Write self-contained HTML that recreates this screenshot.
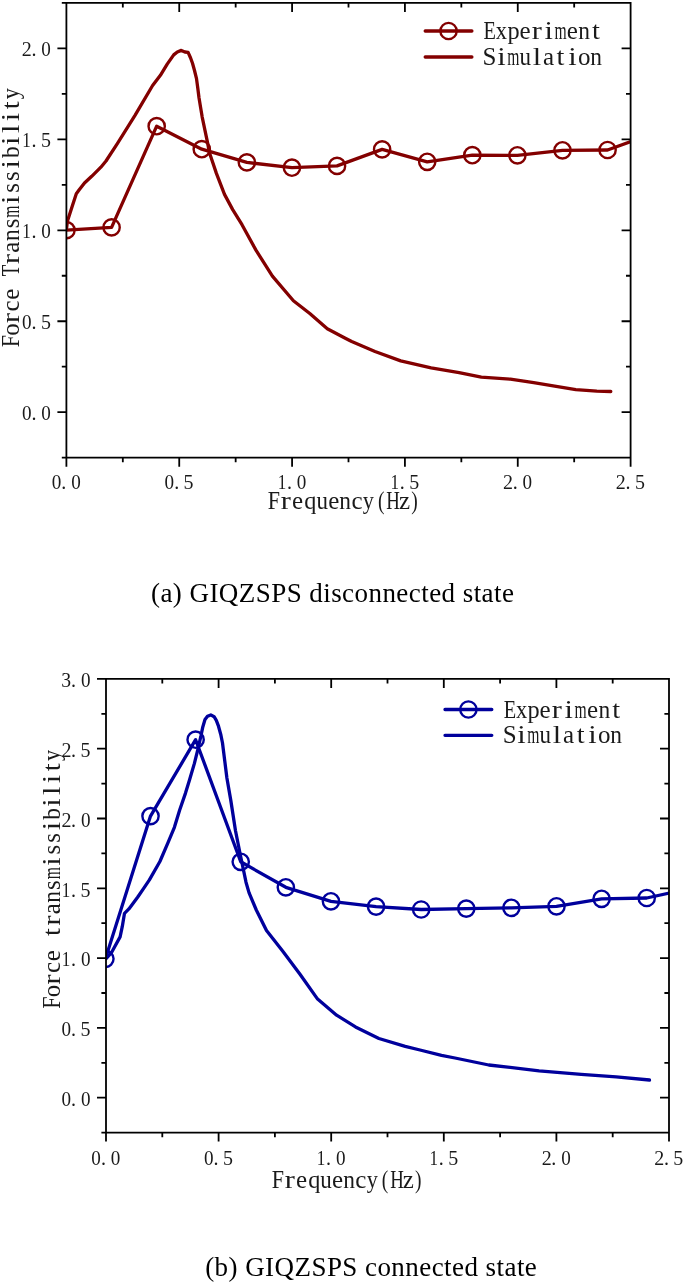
<!DOCTYPE html>
<html><head><meta charset="utf-8"><title>Force transmissibility</title>
<style>
html,body{margin:0;padding:0;background:#fff;}
svg{display:block;will-change:transform;}
svg text{font-family:"Liberation Serif", serif;}
</style></head>
<body>
<svg width="685" height="1285" viewBox="0 0 685 1285">
<rect width="685" height="1285" fill="#fff"/>
<clipPath id="ca"><rect x="66.4" y="2.925" width="564.2" height="454.75"/></clipPath>
<g clip-path="url(#ca)">
<polyline points="66.60,228.00 67.40,221.30 72.30,206.00 76.30,193.70 79.40,189.60 84.50,183.00 91.70,176.30 100.90,167.20 106.00,161.00 117.50,143.40 135.00,115.30 152.60,85.50 160.40,75.30 167.20,64.10 173.70,54.90 177.30,52.00 181.30,50.40 184.90,52.00 188.10,52.40 190.50,57.70 192.50,63.30 194.50,70.50 196.50,78.60 197.80,88.20 199.00,97.80 200.60,107.50 202.20,117.10 207.70,143.40 209.30,152.30 216.40,173.40 224.50,194.40 232.70,209.60 242.00,224.70 256.10,250.40 272.40,276.10 293.40,300.70 309.80,313.50 327.30,328.70 344.80,338.00 351.70,341.50 375.00,351.50 400.70,360.90 431.10,367.90 459.10,372.60 481.30,377.20 510.40,379.20 533.70,382.70 554.70,386.20 575.80,389.70 596.80,391.10 610.80,391.50" fill="none" stroke="#830000" stroke-width="3.3" stroke-linejoin="round" stroke-linecap="round"/>
<polyline points="66.50,230.10 111.59,227.40 156.68,126.20 201.77,149.20 246.86,162.40 291.95,167.70 337.04,165.90 382.13,149.40 427.22,161.80 472.31,155.20 517.40,155.30 562.49,150.30 607.58,150.00 640.00,138.30" fill="none" stroke="#830000" stroke-width="3.3" stroke-linejoin="round" stroke-linecap="round"/>
<circle cx="66.50" cy="230.10" r="8.15" fill="none" stroke="#830000" stroke-width="2.4"/>
<circle cx="111.59" cy="227.40" r="8.15" fill="none" stroke="#830000" stroke-width="2.4"/>
<circle cx="156.68" cy="126.20" r="8.15" fill="none" stroke="#830000" stroke-width="2.4"/>
<circle cx="201.77" cy="149.20" r="8.15" fill="none" stroke="#830000" stroke-width="2.4"/>
<circle cx="246.86" cy="162.40" r="8.15" fill="none" stroke="#830000" stroke-width="2.4"/>
<circle cx="291.95" cy="167.70" r="8.15" fill="none" stroke="#830000" stroke-width="2.4"/>
<circle cx="337.04" cy="165.90" r="8.15" fill="none" stroke="#830000" stroke-width="2.4"/>
<circle cx="382.13" cy="149.40" r="8.15" fill="none" stroke="#830000" stroke-width="2.4"/>
<circle cx="427.22" cy="161.80" r="8.15" fill="none" stroke="#830000" stroke-width="2.4"/>
<circle cx="472.31" cy="155.20" r="8.15" fill="none" stroke="#830000" stroke-width="2.4"/>
<circle cx="517.40" cy="155.30" r="8.15" fill="none" stroke="#830000" stroke-width="2.4"/>
<circle cx="562.49" cy="150.30" r="8.15" fill="none" stroke="#830000" stroke-width="2.4"/>
<circle cx="607.58" cy="150.00" r="8.15" fill="none" stroke="#830000" stroke-width="2.4"/>
</g>
<path d="M66.4,2.925H630.6V457.675H66.4Z M66.40,457.675v9.0 M66.40,2.925v9.0 M122.82,457.675v4.6 M122.82,2.925v4.6 M179.24,457.675v9.0 M179.24,2.925v9.0 M235.66,457.675v4.6 M235.66,2.925v4.6 M292.08,457.675v9.0 M292.08,2.925v9.0 M348.50,457.675v4.6 M348.50,2.925v4.6 M404.92,457.675v9.0 M404.92,2.925v9.0 M461.34,457.675v4.6 M461.34,2.925v4.6 M517.76,457.675v9.0 M517.76,2.925v9.0 M574.18,457.675v4.6 M574.18,2.925v4.6 M630.60,457.675v9.0 M630.60,2.925v9.0 M66.4,457.68h-4.6 M630.6,457.68h-4.6 M66.4,412.20h-9.0 M630.6,412.20h-9.0 M66.4,366.72h-4.6 M630.6,366.72h-4.6 M66.4,321.25h-9.0 M630.6,321.25h-9.0 M66.4,275.77h-4.6 M630.6,275.77h-4.6 M66.4,230.30h-9.0 M630.6,230.30h-9.0 M66.4,184.82h-4.6 M630.6,184.82h-4.6 M66.4,139.35h-9.0 M630.6,139.35h-9.0 M66.4,93.88h-4.6 M630.6,93.88h-4.6 M66.4,48.40h-9.0 M630.6,48.40h-9.0 M66.4,2.92h-4.6 M630.6,2.92h-4.6" fill="none" stroke="#000" stroke-width="1.8" stroke-linecap="butt" stroke-linejoin="miter"/>
<g fill="#1a1a1a">
<text transform="translate(56.50,488.90) scale(0.957,1)" x="-4.99" y="0" font-size="20.0">0</text>
<text transform="translate(63.80,488.90) scale(1.000,1)" x="-2.49" y="0" font-size="20.0">.</text>
<text transform="translate(75.90,488.90) scale(0.957,1)" x="-4.99" y="0" font-size="20.0">0</text>
<text transform="translate(169.34,488.90) scale(0.957,1)" x="-4.99" y="0" font-size="20.0">0</text>
<text transform="translate(176.64,488.90) scale(1.000,1)" x="-2.49" y="0" font-size="20.0">.</text>
<text transform="translate(188.74,488.90) scale(1.000,1)" x="-5.18" y="0" font-size="20.0">5</text>
<text transform="translate(282.18,488.90) scale(0.855,1)" x="-5.27" y="0" font-size="20.0">1</text>
<text transform="translate(289.48,488.90) scale(1.000,1)" x="-2.49" y="0" font-size="20.0">.</text>
<text transform="translate(301.58,488.90) scale(0.957,1)" x="-4.99" y="0" font-size="20.0">0</text>
<text transform="translate(395.02,488.90) scale(0.855,1)" x="-5.27" y="0" font-size="20.0">1</text>
<text transform="translate(402.32,488.90) scale(1.000,1)" x="-2.49" y="0" font-size="20.0">.</text>
<text transform="translate(414.42,488.90) scale(1.000,1)" x="-5.18" y="0" font-size="20.0">5</text>
<text transform="translate(507.86,488.90) scale(1.000,1)" x="-4.88" y="0" font-size="20.0">2</text>
<text transform="translate(515.16,488.90) scale(1.000,1)" x="-2.49" y="0" font-size="20.0">.</text>
<text transform="translate(527.26,488.90) scale(0.957,1)" x="-4.99" y="0" font-size="20.0">0</text>
<text transform="translate(620.70,488.90) scale(1.000,1)" x="-4.88" y="0" font-size="20.0">2</text>
<text transform="translate(628.00,488.90) scale(1.000,1)" x="-2.49" y="0" font-size="20.0">.</text>
<text transform="translate(640.10,488.90) scale(1.000,1)" x="-5.18" y="0" font-size="20.0">5</text>
<text transform="translate(26.70,420.00) scale(0.957,1)" x="-4.99" y="0" font-size="20.0">0</text>
<text transform="translate(34.00,420.00) scale(1.000,1)" x="-2.49" y="0" font-size="20.0">.</text>
<text transform="translate(46.10,420.00) scale(0.957,1)" x="-4.99" y="0" font-size="20.0">0</text>
<text transform="translate(26.70,329.05) scale(0.957,1)" x="-4.99" y="0" font-size="20.0">0</text>
<text transform="translate(34.00,329.05) scale(1.000,1)" x="-2.49" y="0" font-size="20.0">.</text>
<text transform="translate(46.10,329.05) scale(1.000,1)" x="-5.18" y="0" font-size="20.0">5</text>
<text transform="translate(26.70,238.10) scale(0.855,1)" x="-5.27" y="0" font-size="20.0">1</text>
<text transform="translate(34.00,238.10) scale(1.000,1)" x="-2.49" y="0" font-size="20.0">.</text>
<text transform="translate(46.10,238.10) scale(0.957,1)" x="-4.99" y="0" font-size="20.0">0</text>
<text transform="translate(26.70,147.15) scale(0.855,1)" x="-5.27" y="0" font-size="20.0">1</text>
<text transform="translate(34.00,147.15) scale(1.000,1)" x="-2.49" y="0" font-size="20.0">.</text>
<text transform="translate(46.10,147.15) scale(1.000,1)" x="-5.18" y="0" font-size="20.0">5</text>
<text transform="translate(26.70,56.20) scale(1.000,1)" x="-4.88" y="0" font-size="20.0">2</text>
<text transform="translate(34.00,56.20) scale(1.000,1)" x="-2.49" y="0" font-size="20.0">.</text>
<text transform="translate(46.10,56.20) scale(0.957,1)" x="-4.99" y="0" font-size="20.0">0</text>
<text transform="translate(273.80,508.60) scale(0.882,1)" x="-6.85" y="0" font-size="25">F</text>
<text transform="translate(286.00,508.60) scale(1.215,1)" x="-4.29" y="0" font-size="25">r</text>
<text transform="translate(297.70,508.60) scale(1.000,1)" x="-5.59" y="0" font-size="25">e</text>
<text transform="translate(310.50,508.60) scale(0.971,1)" x="-6.46" y="0" font-size="25">q</text>
<text transform="translate(322.10,508.60) scale(0.921,1)" x="-6.19" y="0" font-size="25">u</text>
<text transform="translate(333.80,508.60) scale(1.000,1)" x="-5.59" y="0" font-size="25">e</text>
<text transform="translate(345.30,508.60) scale(0.937,1)" x="-6.34" y="0" font-size="25">n</text>
<text transform="translate(357.00,508.60) scale(1.000,1)" x="-5.62" y="0" font-size="25">c</text>
<text transform="translate(368.40,508.60) scale(0.894,1)" x="-6.34" y="0" font-size="25">y</text>
<text transform="translate(381.30,508.60) scale(0.781,1)" x="-4.30" y="0" font-size="25">(</text>
<text transform="translate(393.10,508.60) scale(0.754,1)" x="-9.01" y="0" font-size="25">H</text>
<text transform="translate(404.40,508.60) scale(1.000,1)" x="-5.53" y="0" font-size="25">z</text>
<text transform="translate(414.30,508.60) scale(0.781,1)" x="-4.00" y="0" font-size="25">)</text>
<text transform="translate(19.30,341.30) rotate(-90) scale(0.882,1)" x="-6.85" y="0" font-size="25">F</text>
<text transform="translate(19.30,329.50) rotate(-90) scale(1.000,1)" x="-6.24" y="0" font-size="25">o</text>
<text transform="translate(19.30,317.70) rotate(-90) scale(1.215,1)" x="-4.29" y="0" font-size="25">r</text>
<text transform="translate(19.30,305.90) rotate(-90) scale(1.000,1)" x="-5.62" y="0" font-size="25">c</text>
<text transform="translate(19.30,294.10) rotate(-90) scale(1.000,1)" x="-5.59" y="0" font-size="25">e</text>
<text transform="translate(19.30,270.50) rotate(-90) scale(0.751,1)" x="-7.64" y="0" font-size="25">T</text>
<text transform="translate(19.30,258.70) rotate(-90) scale(1.215,1)" x="-4.29" y="0" font-size="25">r</text>
<text transform="translate(19.30,246.90) rotate(-90) scale(1.000,1)" x="-5.80" y="0" font-size="25">a</text>
<text transform="translate(19.30,235.10) rotate(-90) scale(0.937,1)" x="-6.34" y="0" font-size="25">n</text>
<text transform="translate(19.30,223.30) rotate(-90) scale(1.000,1)" x="-4.91" y="0" font-size="25">s</text>
<text transform="translate(19.30,211.50) rotate(-90) scale(0.627,1)" x="-9.78" y="0" font-size="25">m</text>
<text transform="translate(19.30,199.70) rotate(-90) scale(1.215,1)" x="-3.49" y="0" font-size="25">i</text>
<text transform="translate(19.30,187.90) rotate(-90) scale(1.000,1)" x="-4.91" y="0" font-size="25">s</text>
<text transform="translate(19.30,176.10) rotate(-90) scale(1.000,1)" x="-4.91" y="0" font-size="25">s</text>
<text transform="translate(19.30,164.30) rotate(-90) scale(1.215,1)" x="-3.49" y="0" font-size="25">i</text>
<text transform="translate(19.30,152.50) rotate(-90) scale(0.937,1)" x="-5.76" y="0" font-size="25">b</text>
<text transform="translate(19.30,140.70) rotate(-90) scale(1.215,1)" x="-3.49" y="0" font-size="25">i</text>
<text transform="translate(19.30,128.90) rotate(-90) scale(1.215,1)" x="-3.46" y="0" font-size="25">l</text>
<text transform="translate(19.30,117.10) rotate(-90) scale(1.215,1)" x="-3.49" y="0" font-size="25">i</text>
<text transform="translate(19.30,105.30) rotate(-90) scale(1.134,1)" x="-3.51" y="0" font-size="25">t</text>
<text transform="translate(19.30,93.50) rotate(-90) scale(0.894,1)" x="-6.34" y="0" font-size="25">y</text>
</g>
<path d="M425.2,31.0H471.9M425.2,57.0H471.9" stroke="#830000" stroke-width="3.3" stroke-linecap="round" fill="none"/>
<circle cx="448.55" cy="31.0" r="8.15" fill="none" stroke="#830000" stroke-width="2.4"/>
<g fill="#1a1a1a">
<text transform="translate(489.60,39.30) scale(0.814,1)" x="-7.36" y="0" font-size="25">E</text>
<text transform="translate(501.43,39.30) scale(0.904,1)" x="-6.20" y="0" font-size="25">x</text>
<text transform="translate(513.26,39.30) scale(0.973,1)" x="-5.95" y="0" font-size="25">p</text>
<text transform="translate(525.09,39.30) scale(1.000,1)" x="-5.59" y="0" font-size="25">e</text>
<text transform="translate(536.92,39.30) scale(1.215,1)" x="-4.29" y="0" font-size="25">r</text>
<text transform="translate(548.75,39.30) scale(1.215,1)" x="-3.49" y="0" font-size="25">i</text>
<text transform="translate(560.58,39.30) scale(0.627,1)" x="-9.78" y="0" font-size="25">m</text>
<text transform="translate(572.41,39.30) scale(1.000,1)" x="-5.59" y="0" font-size="25">e</text>
<text transform="translate(584.24,39.30) scale(0.937,1)" x="-6.34" y="0" font-size="25">n</text>
<text transform="translate(596.07,39.30) scale(1.134,1)" x="-3.51" y="0" font-size="25">t</text>
<text transform="translate(489.60,65.00) scale(1.000,1)" x="-7.00" y="0" font-size="25">S</text>
<text transform="translate(501.43,65.00) scale(1.215,1)" x="-3.49" y="0" font-size="25">i</text>
<text transform="translate(513.26,65.00) scale(0.627,1)" x="-9.78" y="0" font-size="25">m</text>
<text transform="translate(525.09,65.00) scale(0.921,1)" x="-6.19" y="0" font-size="25">u</text>
<text transform="translate(536.92,65.00) scale(1.215,1)" x="-3.46" y="0" font-size="25">l</text>
<text transform="translate(548.75,65.00) scale(1.000,1)" x="-5.80" y="0" font-size="25">a</text>
<text transform="translate(560.58,65.00) scale(1.134,1)" x="-3.51" y="0" font-size="25">t</text>
<text transform="translate(572.41,65.00) scale(1.215,1)" x="-3.49" y="0" font-size="25">i</text>
<text transform="translate(584.24,65.00) scale(1.000,1)" x="-6.24" y="0" font-size="25">o</text>
<text transform="translate(596.07,65.00) scale(0.937,1)" x="-6.34" y="0" font-size="25">n</text>
</g>
<clipPath id="cb"><rect x="106.0" y="678.9" width="563.0" height="453.69999999999993"/></clipPath>
<g clip-path="url(#cb)">
<polyline points="106.30,958.50 111.40,952.70 120.10,936.90 122.30,926.40 124.50,913.30 128.90,908.90 137.60,897.20 143.50,888.60 149.40,879.90 159.90,861.50 167.80,843.10 174.40,827.30 179.60,810.20 185.50,793.10 189.50,780.00 194.40,763.40 198.00,748.80 201.00,735.70 202.80,726.90 205.00,719.60 207.50,716.30 210.80,714.90 214.10,716.70 216.30,720.30 218.50,726.20 220.70,734.20 222.50,743.00 223.60,751.70 224.70,760.50 225.80,769.20 226.90,778.00 230.80,800.40 235.50,830.80 240.20,854.20 246.00,882.20 249.00,892.60 256.30,910.00 266.50,930.50 282.60,951.00 300.00,974.30 317.60,999.10 336.60,1015.20 355.50,1026.90 378.90,1038.50 405.20,1046.30 420.00,1050.00 441.50,1055.30 455.00,1058.00 488.80,1065.00 539.10,1070.80 581.20,1074.30 616.20,1076.80 649.50,1080.00" fill="none" stroke="#00009c" stroke-width="3.3" stroke-linejoin="round" stroke-linecap="round"/>
<polyline points="105.40,958.80 150.51,816.10 195.62,739.70 240.73,861.80 285.84,887.30 330.95,901.30 376.06,906.60 421.17,909.50 466.28,908.60 511.39,907.80 556.50,906.30 601.61,898.80 646.72,898.00 690.00,888.60" fill="none" stroke="#00009c" stroke-width="3.3" stroke-linejoin="round" stroke-linecap="round"/>
<circle cx="105.40" cy="958.80" r="8.15" fill="none" stroke="#00009c" stroke-width="2.4"/>
<circle cx="150.51" cy="816.10" r="8.15" fill="none" stroke="#00009c" stroke-width="2.4"/>
<circle cx="195.62" cy="739.70" r="8.15" fill="none" stroke="#00009c" stroke-width="2.4"/>
<circle cx="240.73" cy="861.80" r="8.15" fill="none" stroke="#00009c" stroke-width="2.4"/>
<circle cx="285.84" cy="887.30" r="8.15" fill="none" stroke="#00009c" stroke-width="2.4"/>
<circle cx="330.95" cy="901.30" r="8.15" fill="none" stroke="#00009c" stroke-width="2.4"/>
<circle cx="376.06" cy="906.60" r="8.15" fill="none" stroke="#00009c" stroke-width="2.4"/>
<circle cx="421.17" cy="909.50" r="8.15" fill="none" stroke="#00009c" stroke-width="2.4"/>
<circle cx="466.28" cy="908.60" r="8.15" fill="none" stroke="#00009c" stroke-width="2.4"/>
<circle cx="511.39" cy="907.80" r="8.15" fill="none" stroke="#00009c" stroke-width="2.4"/>
<circle cx="556.50" cy="906.30" r="8.15" fill="none" stroke="#00009c" stroke-width="2.4"/>
<circle cx="601.61" cy="898.80" r="8.15" fill="none" stroke="#00009c" stroke-width="2.4"/>
<circle cx="646.72" cy="898.00" r="8.15" fill="none" stroke="#00009c" stroke-width="2.4"/>
</g>
<path d="M106.0,678.9H669.0V1132.6H106.0Z M106.00,1132.6v9.0 M106.00,678.9v9.0 M162.30,1132.6v4.6 M162.30,678.9v4.6 M218.60,1132.6v9.0 M218.60,678.9v9.0 M274.90,1132.6v4.6 M274.90,678.9v4.6 M331.20,1132.6v9.0 M331.20,678.9v9.0 M387.50,1132.6v4.6 M387.50,678.9v4.6 M443.80,1132.6v9.0 M443.80,678.9v9.0 M500.10,1132.6v4.6 M500.10,678.9v4.6 M556.40,1132.6v9.0 M556.40,678.9v9.0 M612.70,1132.6v4.6 M612.70,678.9v4.6 M669.00,1132.6v9.0 M669.00,678.9v9.0 M106.0,1132.60h-4.6 M669.0,1132.60h-4.6 M106.0,1097.70h-9.0 M669.0,1097.70h-9.0 M106.0,1062.80h-4.6 M669.0,1062.80h-4.6 M106.0,1027.90h-9.0 M669.0,1027.90h-9.0 M106.0,993.00h-4.6 M669.0,993.00h-4.6 M106.0,958.10h-9.0 M669.0,958.10h-9.0 M106.0,923.20h-4.6 M669.0,923.20h-4.6 M106.0,888.30h-9.0 M669.0,888.30h-9.0 M106.0,853.40h-4.6 M669.0,853.40h-4.6 M106.0,818.50h-9.0 M669.0,818.50h-9.0 M106.0,783.60h-4.6 M669.0,783.60h-4.6 M106.0,748.70h-9.0 M669.0,748.70h-9.0 M106.0,713.80h-4.6 M669.0,713.80h-4.6 M106.0,678.90h-9.0 M669.0,678.90h-9.0" fill="none" stroke="#000" stroke-width="1.8" stroke-linecap="butt" stroke-linejoin="miter"/>
<g fill="#1a1a1a">
<text transform="translate(96.10,1164.50) scale(0.957,1)" x="-4.99" y="0" font-size="20.0">0</text>
<text transform="translate(103.40,1164.50) scale(1.000,1)" x="-2.49" y="0" font-size="20.0">.</text>
<text transform="translate(115.50,1164.50) scale(0.957,1)" x="-4.99" y="0" font-size="20.0">0</text>
<text transform="translate(208.70,1164.50) scale(0.957,1)" x="-4.99" y="0" font-size="20.0">0</text>
<text transform="translate(216.00,1164.50) scale(1.000,1)" x="-2.49" y="0" font-size="20.0">.</text>
<text transform="translate(228.10,1164.50) scale(1.000,1)" x="-5.18" y="0" font-size="20.0">5</text>
<text transform="translate(321.30,1164.50) scale(0.855,1)" x="-5.27" y="0" font-size="20.0">1</text>
<text transform="translate(328.60,1164.50) scale(1.000,1)" x="-2.49" y="0" font-size="20.0">.</text>
<text transform="translate(340.70,1164.50) scale(0.957,1)" x="-4.99" y="0" font-size="20.0">0</text>
<text transform="translate(433.90,1164.50) scale(0.855,1)" x="-5.27" y="0" font-size="20.0">1</text>
<text transform="translate(441.20,1164.50) scale(1.000,1)" x="-2.49" y="0" font-size="20.0">.</text>
<text transform="translate(453.30,1164.50) scale(1.000,1)" x="-5.18" y="0" font-size="20.0">5</text>
<text transform="translate(546.50,1164.50) scale(1.000,1)" x="-4.88" y="0" font-size="20.0">2</text>
<text transform="translate(553.80,1164.50) scale(1.000,1)" x="-2.49" y="0" font-size="20.0">.</text>
<text transform="translate(565.90,1164.50) scale(0.957,1)" x="-4.99" y="0" font-size="20.0">0</text>
<text transform="translate(659.10,1164.50) scale(1.000,1)" x="-4.88" y="0" font-size="20.0">2</text>
<text transform="translate(666.40,1164.50) scale(1.000,1)" x="-2.49" y="0" font-size="20.0">.</text>
<text transform="translate(678.50,1164.50) scale(1.000,1)" x="-5.18" y="0" font-size="20.0">5</text>
<text transform="translate(66.30,1106.00) scale(0.957,1)" x="-4.99" y="0" font-size="20.0">0</text>
<text transform="translate(73.60,1106.00) scale(1.000,1)" x="-2.49" y="0" font-size="20.0">.</text>
<text transform="translate(85.70,1106.00) scale(0.957,1)" x="-4.99" y="0" font-size="20.0">0</text>
<text transform="translate(66.30,1036.20) scale(0.957,1)" x="-4.99" y="0" font-size="20.0">0</text>
<text transform="translate(73.60,1036.20) scale(1.000,1)" x="-2.49" y="0" font-size="20.0">.</text>
<text transform="translate(85.70,1036.20) scale(1.000,1)" x="-5.18" y="0" font-size="20.0">5</text>
<text transform="translate(66.30,966.40) scale(0.855,1)" x="-5.27" y="0" font-size="20.0">1</text>
<text transform="translate(73.60,966.40) scale(1.000,1)" x="-2.49" y="0" font-size="20.0">.</text>
<text transform="translate(85.70,966.40) scale(0.957,1)" x="-4.99" y="0" font-size="20.0">0</text>
<text transform="translate(66.30,896.60) scale(0.855,1)" x="-5.27" y="0" font-size="20.0">1</text>
<text transform="translate(73.60,896.60) scale(1.000,1)" x="-2.49" y="0" font-size="20.0">.</text>
<text transform="translate(85.70,896.60) scale(1.000,1)" x="-5.18" y="0" font-size="20.0">5</text>
<text transform="translate(66.30,826.80) scale(1.000,1)" x="-4.88" y="0" font-size="20.0">2</text>
<text transform="translate(73.60,826.80) scale(1.000,1)" x="-2.49" y="0" font-size="20.0">.</text>
<text transform="translate(85.70,826.80) scale(0.957,1)" x="-4.99" y="0" font-size="20.0">0</text>
<text transform="translate(66.30,757.00) scale(1.000,1)" x="-4.88" y="0" font-size="20.0">2</text>
<text transform="translate(73.60,757.00) scale(1.000,1)" x="-2.49" y="0" font-size="20.0">.</text>
<text transform="translate(85.70,757.00) scale(1.000,1)" x="-5.18" y="0" font-size="20.0">5</text>
<text transform="translate(66.30,687.20) scale(0.983,1)" x="-5.08" y="0" font-size="20.0">3</text>
<text transform="translate(73.60,687.20) scale(1.000,1)" x="-2.49" y="0" font-size="20.0">.</text>
<text transform="translate(85.70,687.20) scale(0.957,1)" x="-4.99" y="0" font-size="20.0">0</text>
<text transform="translate(277.70,1187.60) scale(0.882,1)" x="-6.85" y="0" font-size="25">F</text>
<text transform="translate(289.90,1187.60) scale(1.215,1)" x="-4.29" y="0" font-size="25">r</text>
<text transform="translate(301.60,1187.60) scale(1.000,1)" x="-5.59" y="0" font-size="25">e</text>
<text transform="translate(314.40,1187.60) scale(0.971,1)" x="-6.46" y="0" font-size="25">q</text>
<text transform="translate(326.00,1187.60) scale(0.921,1)" x="-6.19" y="0" font-size="25">u</text>
<text transform="translate(337.70,1187.60) scale(1.000,1)" x="-5.59" y="0" font-size="25">e</text>
<text transform="translate(349.20,1187.60) scale(0.937,1)" x="-6.34" y="0" font-size="25">n</text>
<text transform="translate(360.90,1187.60) scale(1.000,1)" x="-5.62" y="0" font-size="25">c</text>
<text transform="translate(372.30,1187.60) scale(0.894,1)" x="-6.34" y="0" font-size="25">y</text>
<text transform="translate(385.20,1187.60) scale(0.781,1)" x="-4.30" y="0" font-size="25">(</text>
<text transform="translate(397.00,1187.60) scale(0.754,1)" x="-9.01" y="0" font-size="25">H</text>
<text transform="translate(408.30,1187.60) scale(1.000,1)" x="-5.53" y="0" font-size="25">z</text>
<text transform="translate(418.20,1187.60) scale(0.781,1)" x="-4.00" y="0" font-size="25">)</text>
<text transform="translate(60.30,1002.80) rotate(-90) scale(0.882,1)" x="-6.85" y="0" font-size="25">F</text>
<text transform="translate(60.30,991.02) rotate(-90) scale(1.000,1)" x="-6.24" y="0" font-size="25">o</text>
<text transform="translate(60.30,979.24) rotate(-90) scale(1.215,1)" x="-4.29" y="0" font-size="25">r</text>
<text transform="translate(60.30,967.46) rotate(-90) scale(1.000,1)" x="-5.62" y="0" font-size="25">c</text>
<text transform="translate(60.30,955.68) rotate(-90) scale(1.000,1)" x="-5.59" y="0" font-size="25">e</text>
<text transform="translate(60.30,932.12) rotate(-90) scale(1.134,1)" x="-3.51" y="0" font-size="25">t</text>
<text transform="translate(60.30,920.34) rotate(-90) scale(1.215,1)" x="-4.29" y="0" font-size="25">r</text>
<text transform="translate(60.30,908.56) rotate(-90) scale(1.000,1)" x="-5.80" y="0" font-size="25">a</text>
<text transform="translate(60.30,896.78) rotate(-90) scale(0.937,1)" x="-6.34" y="0" font-size="25">n</text>
<text transform="translate(60.30,885.00) rotate(-90) scale(1.000,1)" x="-4.91" y="0" font-size="25">s</text>
<text transform="translate(60.30,873.22) rotate(-90) scale(0.627,1)" x="-9.78" y="0" font-size="25">m</text>
<text transform="translate(60.30,861.44) rotate(-90) scale(1.215,1)" x="-3.49" y="0" font-size="25">i</text>
<text transform="translate(60.30,849.66) rotate(-90) scale(1.000,1)" x="-4.91" y="0" font-size="25">s</text>
<text transform="translate(60.30,837.88) rotate(-90) scale(1.000,1)" x="-4.91" y="0" font-size="25">s</text>
<text transform="translate(60.30,826.10) rotate(-90) scale(1.215,1)" x="-3.49" y="0" font-size="25">i</text>
<text transform="translate(60.30,814.32) rotate(-90) scale(0.937,1)" x="-5.76" y="0" font-size="25">b</text>
<text transform="translate(60.30,802.54) rotate(-90) scale(1.215,1)" x="-3.49" y="0" font-size="25">i</text>
<text transform="translate(60.30,790.76) rotate(-90) scale(1.215,1)" x="-3.46" y="0" font-size="25">l</text>
<text transform="translate(60.30,778.98) rotate(-90) scale(1.215,1)" x="-3.49" y="0" font-size="25">i</text>
<text transform="translate(60.30,767.20) rotate(-90) scale(1.134,1)" x="-3.51" y="0" font-size="25">t</text>
<text transform="translate(60.30,755.42) rotate(-90) scale(0.894,1)" x="-6.34" y="0" font-size="25">y</text>
</g>
<path d="M445.0,709.5H491.8M445.0,735.3H491.8" stroke="#00009c" stroke-width="3.3" stroke-linecap="round" fill="none"/>
<circle cx="468.40" cy="709.5" r="8.15" fill="none" stroke="#00009c" stroke-width="2.4"/>
<g fill="#1a1a1a">
<text transform="translate(509.70,717.60) scale(0.814,1)" x="-7.36" y="0" font-size="25">E</text>
<text transform="translate(521.53,717.60) scale(0.904,1)" x="-6.20" y="0" font-size="25">x</text>
<text transform="translate(533.36,717.60) scale(0.973,1)" x="-5.95" y="0" font-size="25">p</text>
<text transform="translate(545.19,717.60) scale(1.000,1)" x="-5.59" y="0" font-size="25">e</text>
<text transform="translate(557.02,717.60) scale(1.215,1)" x="-4.29" y="0" font-size="25">r</text>
<text transform="translate(568.85,717.60) scale(1.215,1)" x="-3.49" y="0" font-size="25">i</text>
<text transform="translate(580.68,717.60) scale(0.627,1)" x="-9.78" y="0" font-size="25">m</text>
<text transform="translate(592.51,717.60) scale(1.000,1)" x="-5.59" y="0" font-size="25">e</text>
<text transform="translate(604.34,717.60) scale(0.937,1)" x="-6.34" y="0" font-size="25">n</text>
<text transform="translate(616.17,717.60) scale(1.134,1)" x="-3.51" y="0" font-size="25">t</text>
<text transform="translate(509.70,743.40) scale(1.000,1)" x="-7.00" y="0" font-size="25">S</text>
<text transform="translate(521.53,743.40) scale(1.215,1)" x="-3.49" y="0" font-size="25">i</text>
<text transform="translate(533.36,743.40) scale(0.627,1)" x="-9.78" y="0" font-size="25">m</text>
<text transform="translate(545.19,743.40) scale(0.921,1)" x="-6.19" y="0" font-size="25">u</text>
<text transform="translate(557.02,743.40) scale(1.215,1)" x="-3.46" y="0" font-size="25">l</text>
<text transform="translate(568.85,743.40) scale(1.000,1)" x="-5.80" y="0" font-size="25">a</text>
<text transform="translate(580.68,743.40) scale(1.134,1)" x="-3.51" y="0" font-size="25">t</text>
<text transform="translate(592.51,743.40) scale(1.215,1)" x="-3.49" y="0" font-size="25">i</text>
<text transform="translate(604.34,743.40) scale(1.000,1)" x="-6.24" y="0" font-size="25">o</text>
<text transform="translate(616.17,743.40) scale(0.937,1)" x="-6.34" y="0" font-size="25">n</text>
</g>
<text x="151.0" y="602.0" font-size="27" letter-spacing="0.44" fill="#000">(a) GIQZSPS disconnected state</text>
<text x="205.2" y="1276.1" font-size="27" letter-spacing="0.44" fill="#000">(b) GIQZSPS connected state</text>
</svg>
</body></html>
